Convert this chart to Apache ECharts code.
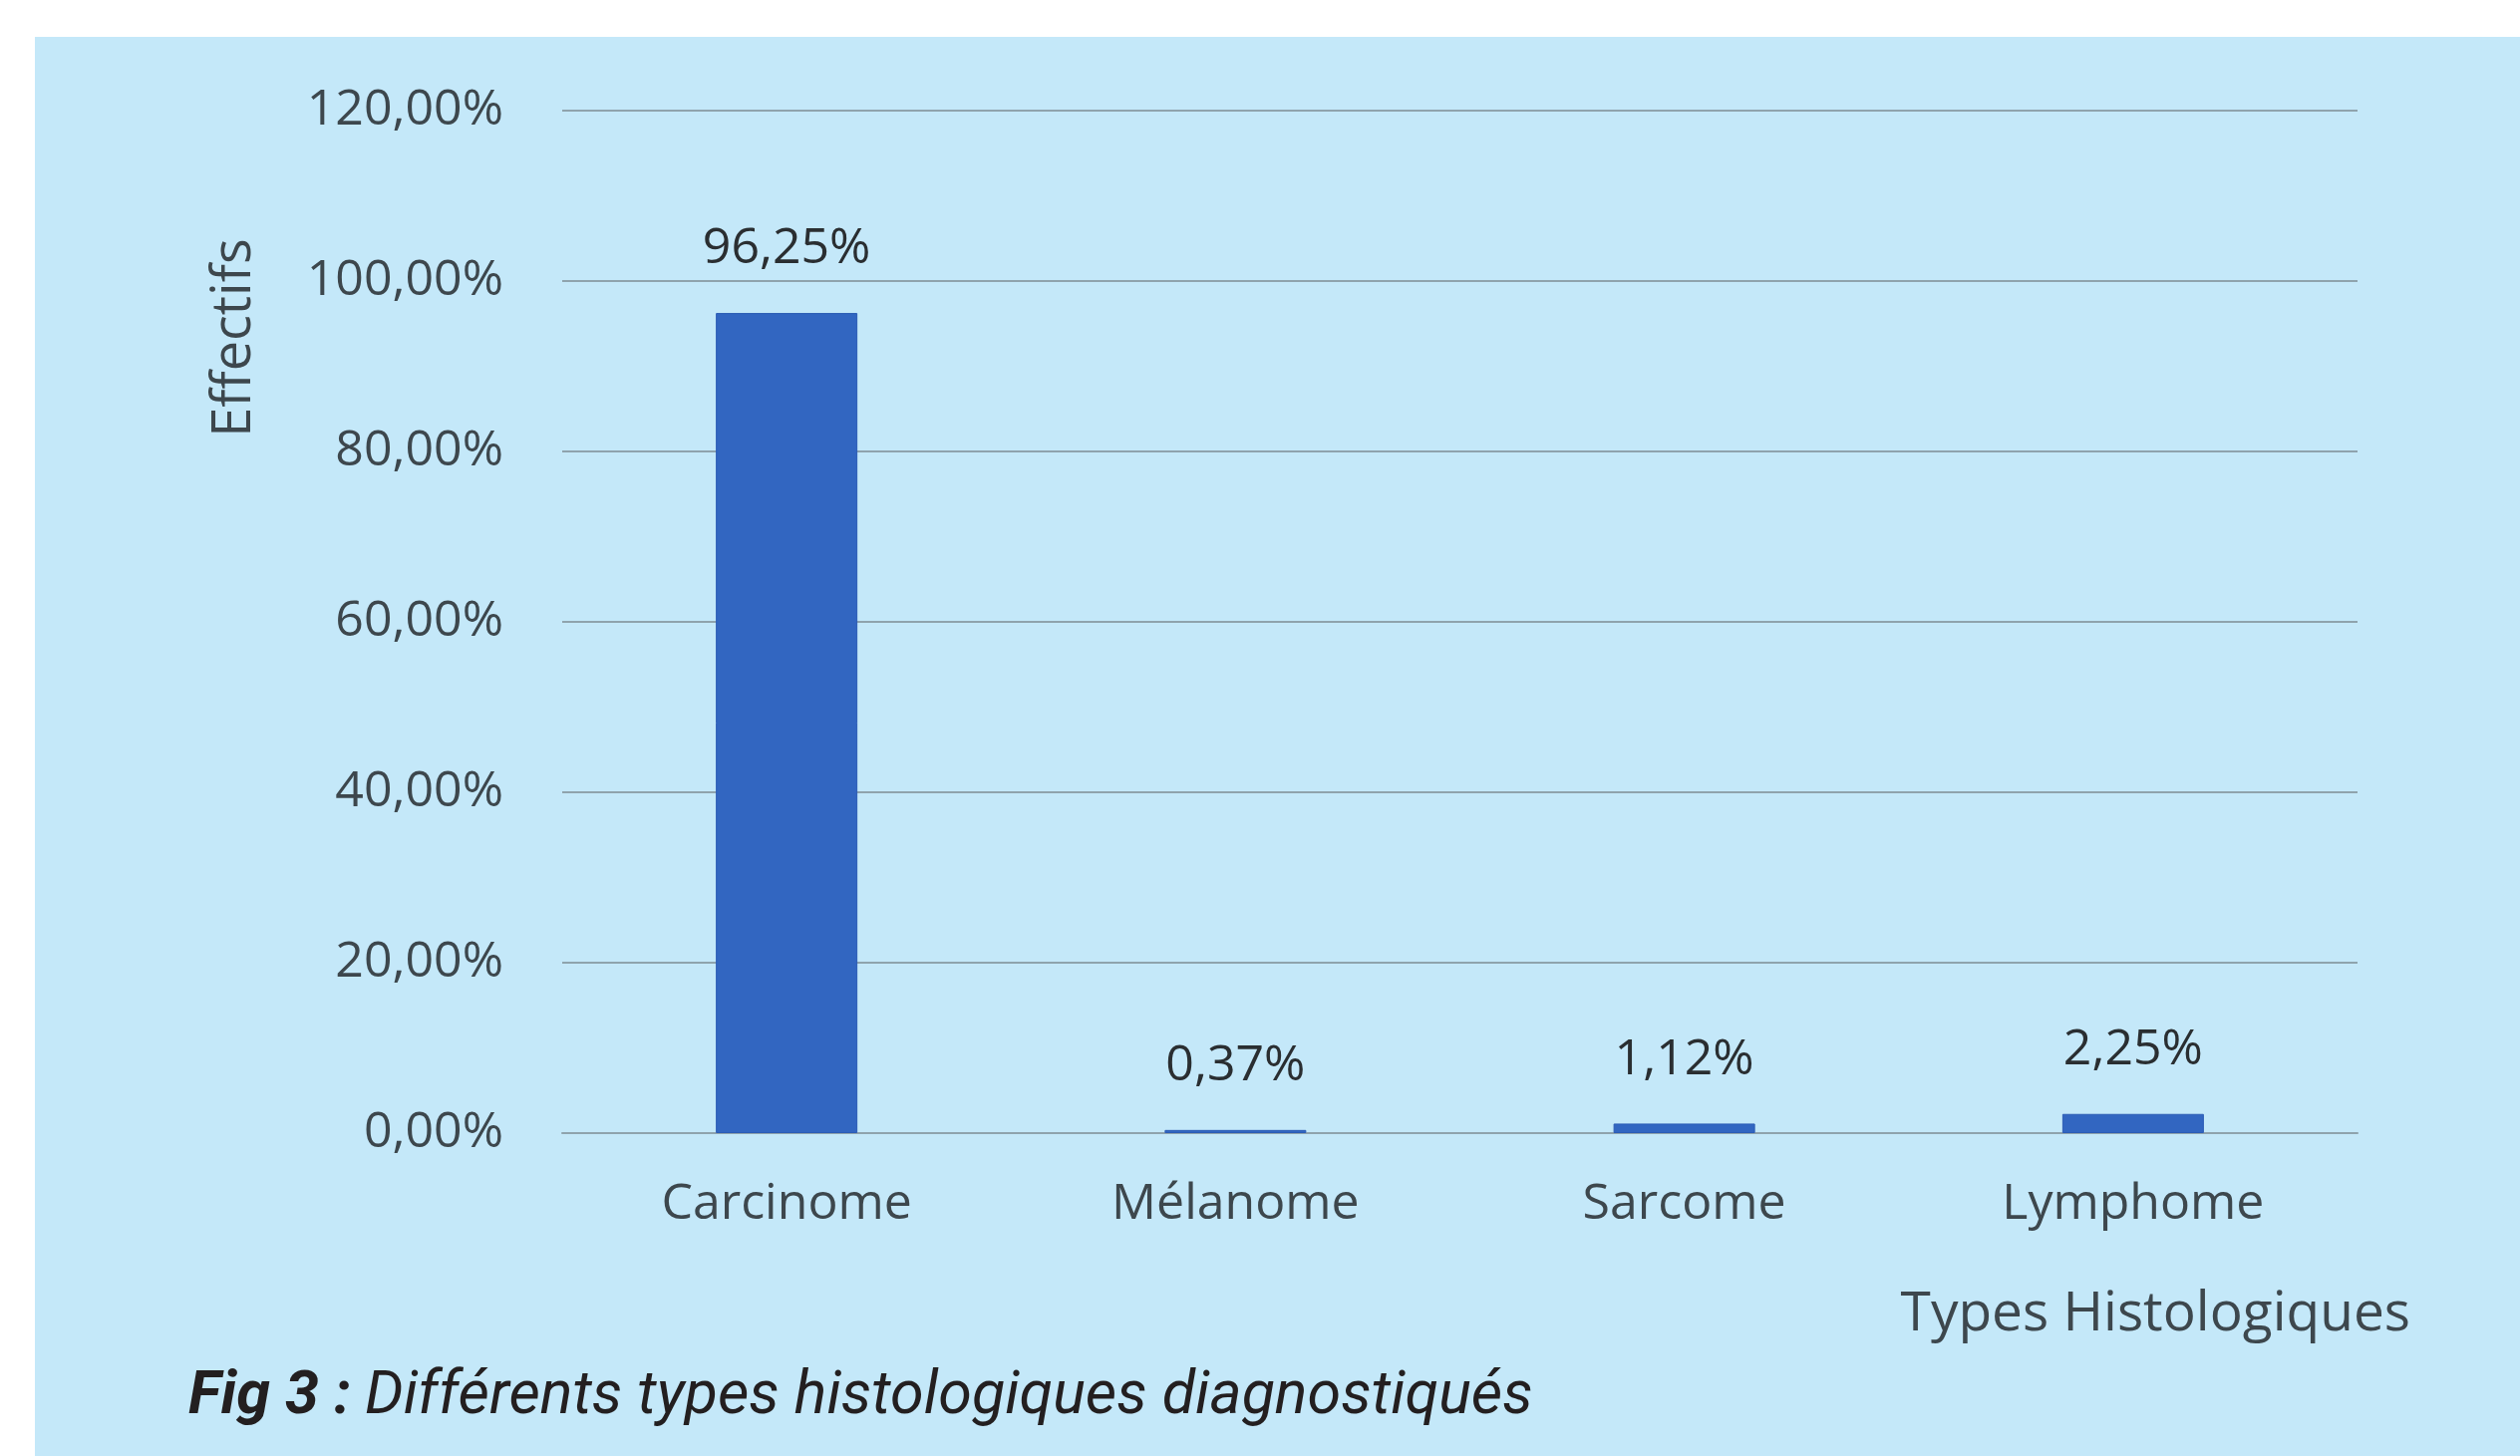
<!DOCTYPE html>
<html>
<head>
<meta charset="utf-8">
<script src="https://cdn.jsdelivr.net/npm/echarts@6/dist/echarts.min.js"></script>
<style>
  html, body { margin: 0; padding: 0; background: #ffffff; }
  #chart { width: 2528px; height: 1461px; }
</style>
</head>
<body>
<div id="chart"></div>
<script>
// ---- Data ----
const categories = ['Carcinome', 'Mélanome', 'Sarcome', 'Lymphome'];
const values = [96.25, 0.37, 1.12, 2.25];
const valueLabels = ['96,25%', '0,37%', '1,12%', '2,25%'];
const yTicks = [0, 20, 40, 60, 80, 100, 120];
const yAxisTitle = 'Effectifs';
const xAxisTitle = 'Types Histologiques';
const captionBold = 'Fig 3 :';
const captionText = 'Différents types histologiques diagnostiqués';

const fmtPct = v => v.toFixed(2).replace('.', ',') + '%';

const chart = echarts.init(document.getElementById('chart'), null, { renderer: 'canvas' });

const axisFont = '"Open Sans", "DejaVu Sans", sans-serif';

chart.setOption({
  backgroundColor: '#C4E8F9',
  animation: false,
  graphic: [
    { type: 'rect', left: 0, top: 0, shape: { width: 2528, height: 37 }, style: { fill: '#ffffff' }, silent: true },
    { type: 'rect', left: 0, top: 0, shape: { width: 35, height: 1461 }, style: { fill: '#ffffff' }, silent: true },
    {
      type: 'text', x: 236, y: 339, rotation: Math.PI / 2,
      style: { text: yAxisTitle, font: '54px ' + axisFont, fill: '#3d474d', align: 'center', verticalAlign: 'middle' }
    },
    {
      type: 'text', x: 2418, y: 1319,
      style: { text: xAxisTitle, font: '55px ' + axisFont, fill: '#3d474d', align: 'right', verticalAlign: 'middle' }
    },
    {
      type: 'text', x: 189, y: 1403,
      style: {
        text: '{b|' + captionBold + '}{s| }{i|' + captionText + '}',
        verticalAlign: 'middle', align: 'left',
        rich: {
          b: { fontFamily: 'Roboto', fontStyle: 'italic', fontWeight: 'bold', fontSize: 61, fill: '#231f20' },
          s: { fontFamily: 'Roboto', fontSize: 61, width: 14 },
          i: { fontFamily: 'Roboto', fontStyle: 'italic', fontWeight: 'normal', fontSize: 61, fill: '#231f20' }
        }
      }
    }
  ],
  grid: { left: 564, right: 2528 - 2365, top: 111, bottom: 1461 - 1137, containLabel: false },
  xAxis: {
    type: 'category',
    data: categories,
    boundaryGap: true,
    axisLine: { show: true, lineStyle: { color: '#8fa3ad', width: 2 } },
    axisTick: { show: false },
    axisLabel: { fontFamily: axisFont, fontSize: 50, color: '#3d474d', margin: 44, lineHeight: 56 }
  },
  yAxis: {
    type: 'value',
    min: yTicks[0],
    max: yTicks[yTicks.length - 1],
    interval: yTicks[1] - yTicks[0],
    axisLine: { show: false },
    axisTick: { show: false },
    splitLine: { show: true, lineStyle: { color: '#8fa3ad', width: 2 } },
    axisLabel: { fontFamily: axisFont, fontSize: 50, color: '#3d474d', margin: 59, formatter: v => fmtPct(v) }
  },
  series: [{
    type: 'bar',
    data: values,
    barWidth: 142,
    itemStyle: { color: '#3266C1', borderColor: '#2C5CB5', borderWidth: 1 },
    label: {
      show: true,
      position: 'top',
      distance: 36,
      fontFamily: axisFont,
      fontSize: 50,
      lineHeight: 56,
      color: '#2a2e31',
      formatter: p => valueLabels[p.dataIndex]
    }
  }]
});
</script>
</body>
</html>
